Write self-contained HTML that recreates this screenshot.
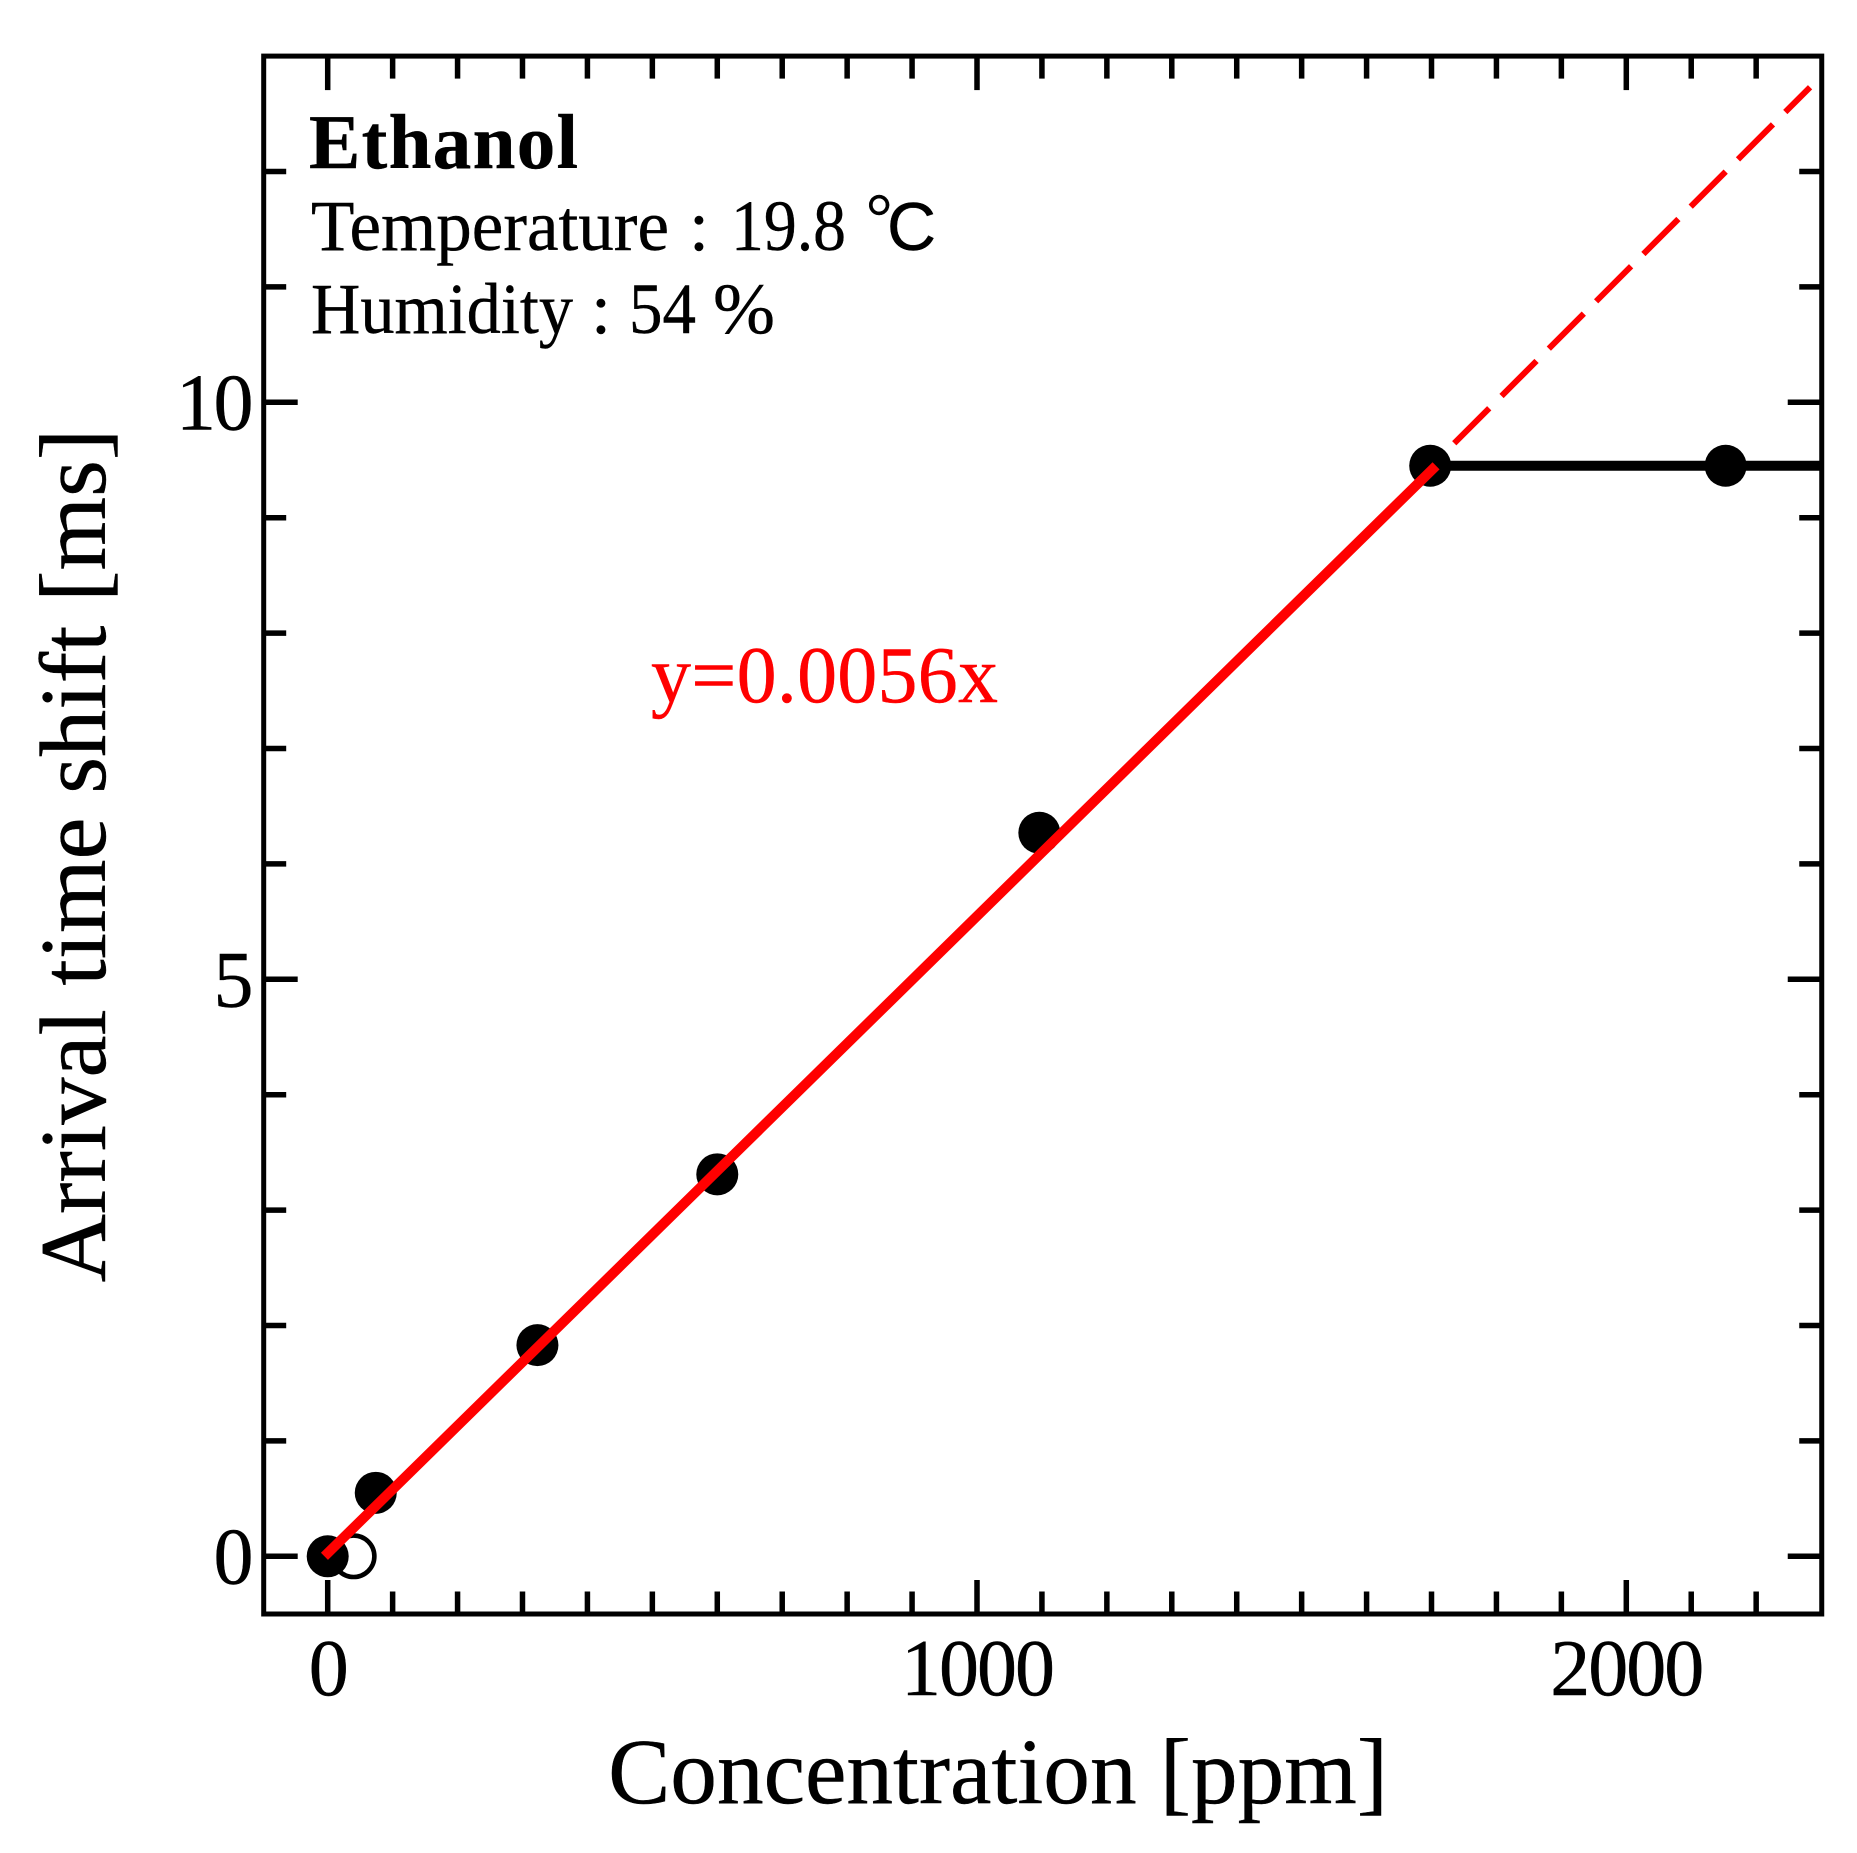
<!DOCTYPE html>
<html lang="en">
<head>
<meta charset="utf-8">
<title>Ethanol arrival time shift vs concentration</title>
<style>
html,body{margin:0;padding:0;background:#fff;}
svg{display:block;}
text{font-family:"Liberation Serif","Noto Sans CJK JP",serif;fill:#000;stroke:#000;stroke-width:0.4;}
text.red{fill:#f00;stroke:#f00;}
</style>
</head>
<body>
<svg id="chart" xmlns="http://www.w3.org/2000/svg" width="1857" height="1853" viewBox="0 0 1857 1853">
  <rect x="0" y="0" width="1857" height="1853" fill="#fff"/>
  <g id="marks"></g>
  <g id="axes"></g>
  <text x="309" y="168" font-size="77" font-weight="bold" textLength="269" lengthAdjust="spacing">Ethanol</text>
  <g>
    <text x="311" y="250" font-size="72" textLength="358" lengthAdjust="spacingAndGlyphs">Temperature</text>
    <text x="689" y="250" font-size="72">:</text>
    <text x="731" y="250" font-size="72" textLength="115" lengthAdjust="spacingAndGlyphs">19.8</text>
    <text x="866" y="239" font-size="66">°</text>
    <text x="887" y="250" font-size="68" style="font-family:'Liberation Sans',sans-serif">C</text>
  </g>
  <g>
    <text x="311" y="333" font-size="72" textLength="262" lengthAdjust="spacingAndGlyphs">Humidity</text>
    <text x="591" y="333" font-size="72">:</text>
    <text x="629" y="333" font-size="72" textLength="67" lengthAdjust="spacingAndGlyphs">54</text>
    <text x="713" y="333" font-size="72" textLength="62" lengthAdjust="spacingAndGlyphs">%</text>
  </g>
  <text class="red" x="651" y="702" font-size="80" textLength="347" lengthAdjust="spacing">y=0.0056x</text>
  <text x="998" y="1803" font-size="93.3" text-anchor="middle">Concentration [ppm]</text>
  <text transform="translate(105,855.5) rotate(-90)" font-size="94.6" text-anchor="middle">Arrival time shift [ms]</text>
</svg>
<script>
const pointX = [0, 74, 323, 600, 1096, 1698, 2153];
const pointY = [0, 0.55, 1.83, 3.31, 6.27, 9.45, 9.45];
const openPointX = [40];
const openPointY = [0];
const plateauX = [1698, 2301];
const plateauY = [9.45, 9.45];
const fitX = [-5, 1707];
const fitY = [0, 9.45];
const extrapolationX = [1735, 2283];
const extrapolationY = [9.645, 12.73];
const xMajorTicks = [0, 1000, 2000];
const xMajorLabels = ["0", "1000", "2000"];
const xMinorTicks = [100, 200, 300, 400, 500, 600, 700, 800, 900, 1100, 1200, 1300, 1400, 1500, 1600, 1700, 1800, 1900, 2100, 2200];
const yMajorTicks = [0, 5, 10];
const yMajorLabels = ["0", "5", "10"];
const yMinorTicks = [1, 2, 3, 4, 6, 7, 8, 9, 11, 12];
const xDomain = [-98, 2301];
const yDomain = [-0.5, 13];

const NS = "http://www.w3.org/2000/svg";
const marks = document.getElementById("marks");
const axes = document.getElementById("axes");
function sx(v){ return 327.7 + v * 0.6493; }
function sy(v){ return 1556.3 - v * 115.4; }
function make(tag, attrs, parent){
  const el = document.createElementNS(NS, tag);
  for (const k in attrs) el.setAttribute(k, attrs[k]);
  parent.appendChild(el);
  return el;
}

// markers
openPointX.forEach(function(x, i){
  const c = make("circle", {cx: sx(x), cy: sy(openPointY[i]), r: 20.7, fill: "#fff", stroke: "#000", "stroke-width": 4.6}, marks);
  
  
});
pointX.forEach(function(x, i){
  const c = make("circle", {cx: sx(x), cy: sy(pointY[i]), r: 21, fill: "#000"}, marks);
  
  
});

// plateau
const plateau = make("line", {x1: sx(plateauX[0]), y1: sy(plateauY[0]), x2: sx(plateauX[1]), y2: sy(plateauY[1]), stroke: "#000", "stroke-width": 10}, marks);



// fit lines
const dash = make("line", {x1: sx(extrapolationX[0]), y1: sy(extrapolationY[0]), x2: sx(extrapolationX[1]), y2: sy(extrapolationY[1]), stroke: "#f00", "stroke-width": 6, "stroke-dasharray": "49.5 17.4"}, marks);


const fit = make("line", {x1: sx(fitX[0]), y1: sy(fitY[0]), x2: sx(fitX[1]), y2: sy(fitY[1]), stroke: "#f00", "stroke-width": 10}, marks);



// frame
const R = sx(xDomain[1]), T = sy(yDomain[1]), B = sy(yDomain[0]);
const frame = make("rect", {x: 263.7, y: T, width: R - 263.7, height: B - T, fill: "none", stroke: "#000", "stroke-width": 5}, axes);



// ticks
function xTick(v, len){
  const a = make("line", {x1: sx(v), x2: sx(v), y1: B, y2: B - len, stroke: "#000", "stroke-width": 5.5}, axes);
  
  
  const b = make("line", {x1: sx(v), x2: sx(v), y1: T, y2: T + len, stroke: "#000", "stroke-width": 5.5}, axes);
  
  
}
function yTick(v, len){
  const a = make("line", {x1: 263.7, x2: 263.7 + len, y1: sy(v), y2: sy(v), stroke: "#000", "stroke-width": 5.5}, axes);
  
  
  const b = make("line", {x1: R, x2: R - len, y1: sy(v), y2: sy(v), stroke: "#000", "stroke-width": 5.5}, axes);
  
  
}
xMinorTicks.forEach(function(v){ xTick(v, 22.5); });
xMajorTicks.forEach(function(v){ xTick(v, 34); });
yMinorTicks.forEach(function(v){ yTick(v, 22.5); });
yMajorTicks.forEach(function(v){ yTick(v, 34); });

// tick labels
xMajorTicks.forEach(function(v, i){
  const t = make("text", {x: sx(v), y: 1695, "font-size": 80, "text-anchor": "middle", "letter-spacing": -2}, axes);
  t.textContent = xMajorLabels[i];
  
  
});
yMajorTicks.forEach(function(v, i){
  const t = make("text", {x: 251, y: sy(v) + 27, "font-size": 80, "text-anchor": "end", "letter-spacing": -2.5}, axes);
  t.textContent = yMajorLabels[i];
  
  
});
</script>
</body>
</html>
